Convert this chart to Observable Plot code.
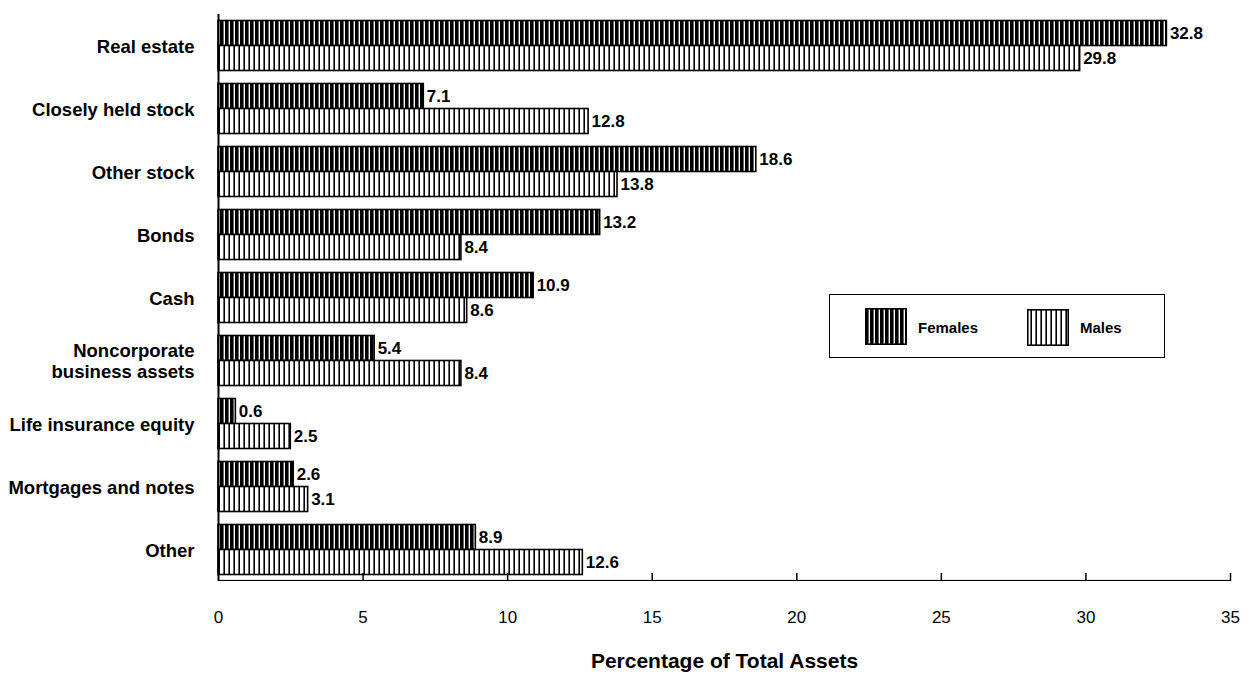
<!DOCTYPE html>
<html><head><meta charset="utf-8">
<script src="https://cdn.jsdelivr.net/npm/d3@7"></script>
<script src="https://cdn.jsdelivr.net/npm/@observablehq/plot@0.6"></script>
<style>
body{margin:0;background:#fff;font-family:"Liberation Sans",Arial,Helvetica,sans-serif;}
#wrap{position:relative;width:1247px;height:674px;overflow:hidden;}
.legend{position:absolute;left:829px;top:294px;width:336px;height:64px;border:1.5px solid #000;box-sizing:border-box;background:#fff;}
.sw{position:absolute;width:42px;height:37px;}
.lt{position:absolute;font-weight:bold;font-size:15px;line-height:15px;}
</style></head>
<body>
<div id="wrap">
<div id="chart"></div>
<div class="legend">
  <svg class="sw" style="left:35px;top:13px" width="42" height="37"><rect x="0.8" y="0.8" width="40.4" height="35.4" fill="url(#pf)" stroke="#000" stroke-width="1.6"/></svg>
  <div class="lt" style="left:88px;top:25px">Females</div>
  <svg class="sw" style="left:197px;top:14px" width="42" height="37"><rect x="0.8" y="0.8" width="40.4" height="35.4" fill="url(#pm)" stroke="#000" stroke-width="1.6"/></svg>
  <div class="lt" style="left:250px;top:25px">Males</div>
</div>
</div>
<svg width="0" height="0" style="position:absolute">
  <defs>
    <pattern id="pf" patternUnits="userSpaceOnUse" width="5" height="10">
      <rect width="5" height="10" fill="#000"/><rect x="3.6" width="1.4" height="10" fill="#fff"/>
    </pattern>
    <pattern id="pm" patternUnits="userSpaceOnUse" width="5" height="10">
      <rect width="5" height="10" fill="#fff"/><rect x="3.4" width="1.6" height="10" fill="#000"/>
    </pattern>
  </defs>
</svg>
<script>
const categories = ["Real estate","Closely held stock","Other stock","Bonds","Cash","Noncorporate business assets","Life insurance equity","Mortgages and notes","Other"];
const categoryLabels = ["Real estate","Closely held stock","Other stock","Bonds","Cash","Noncorporate\nbusiness assets","Life insurance equity","Mortgages and notes","Other"];
const females = [32.8, 7.1, 18.6, 13.2, 10.9, 5.4, 0.6, 2.6, 8.9];
const males = [29.8, 12.8, 13.8, 8.4, 8.6, 8.4, 2.5, 3.1, 12.6];
const xTicks = [0, 5, 10, 15, 20, 25, 30, 35];
const xTitle = "Percentage of Total Assets";

const W = 1247, H = 674, mT = 9.5, mB = 89.5, mL = 218, mR = 17;
const facetH = (H - mT - mB) / categories.length;
const labelMap = new Map(categories.map((c, i) => [c, categoryLabels[i]]));
const lastCat = categories[categories.length - 1];

const data = categories.flatMap((c, i) => [
  {cat: c, sex: "Females", v: females[i]},
  {cat: c, sex: "Males", v: males[i]}
]);

const chart = Plot.plot({
  width: W, height: H,
  marginTop: mT, marginBottom: mB, marginLeft: mL, marginRight: mR,
  style: {fontFamily: '"Liberation Sans", Arial, Helvetica, sans-serif', fontSize: "16px", color: "#000", background: "#fff"},
  x: {domain: [0, 35], axis: null},
  y: {domain: ["Females", "Males"], paddingInner: 0, paddingOuter: 0.26, axis: null},
  fy: {domain: categories, padding: 0, axis: null},
  marks: [
    Plot.barX(data.filter(d => d.sex === "Females"), {x: "v", y: "sex", fy: "cat", fill: "url(#pf)", stroke: "#000", strokeWidth: 1.6}),
    Plot.barX(data.filter(d => d.sex === "Males"), {x: "v", y: "sex", fy: "cat", fill: "url(#pm)", stroke: "#000", strokeWidth: 1.6}),
    Plot.text(data, {x: "v", y: "sex", fy: "cat", text: d => d.v.toFixed(1), dx: 3, textAnchor: "start", fontWeight: "bold", fontSize: 17}),
    Plot.ruleX([0], {stroke: "#000", strokeWidth: 2}),
    Plot.rect([lastCat], {fy: d => d, x1: 0, x2: 35, fill: "#000", insetTop: facetH - 2}),
    Plot.ruleX(xTicks.filter(t => t > 0), {x: d => d, fy: () => lastCat, stroke: "#000", strokeWidth: 1.5, insetTop: facetH - 9}),
    Plot.axisX({anchor: "bottom", ticks: xTicks, tickSize: 0, tickPadding: 29, tickFormat: d => String(d), fontSize: 17, label: null}),
    Plot.axisX({anchor: "bottom", ticks: [], tickSize: 0, fontSize: 21, fontWeight: "bold", label: xTitle, labelAnchor: "center", labelArrow: "none"}),
    Plot.axisFy({anchor: "left", tickSize: 0, tickPadding: 24, tickFormat: d => labelMap.get(d), fontWeight: "bold", fontSize: 18.5, lineHeight: 1.15, label: null})
  ]
});
document.getElementById("chart").appendChild(chart);
</script>
</body></html>
